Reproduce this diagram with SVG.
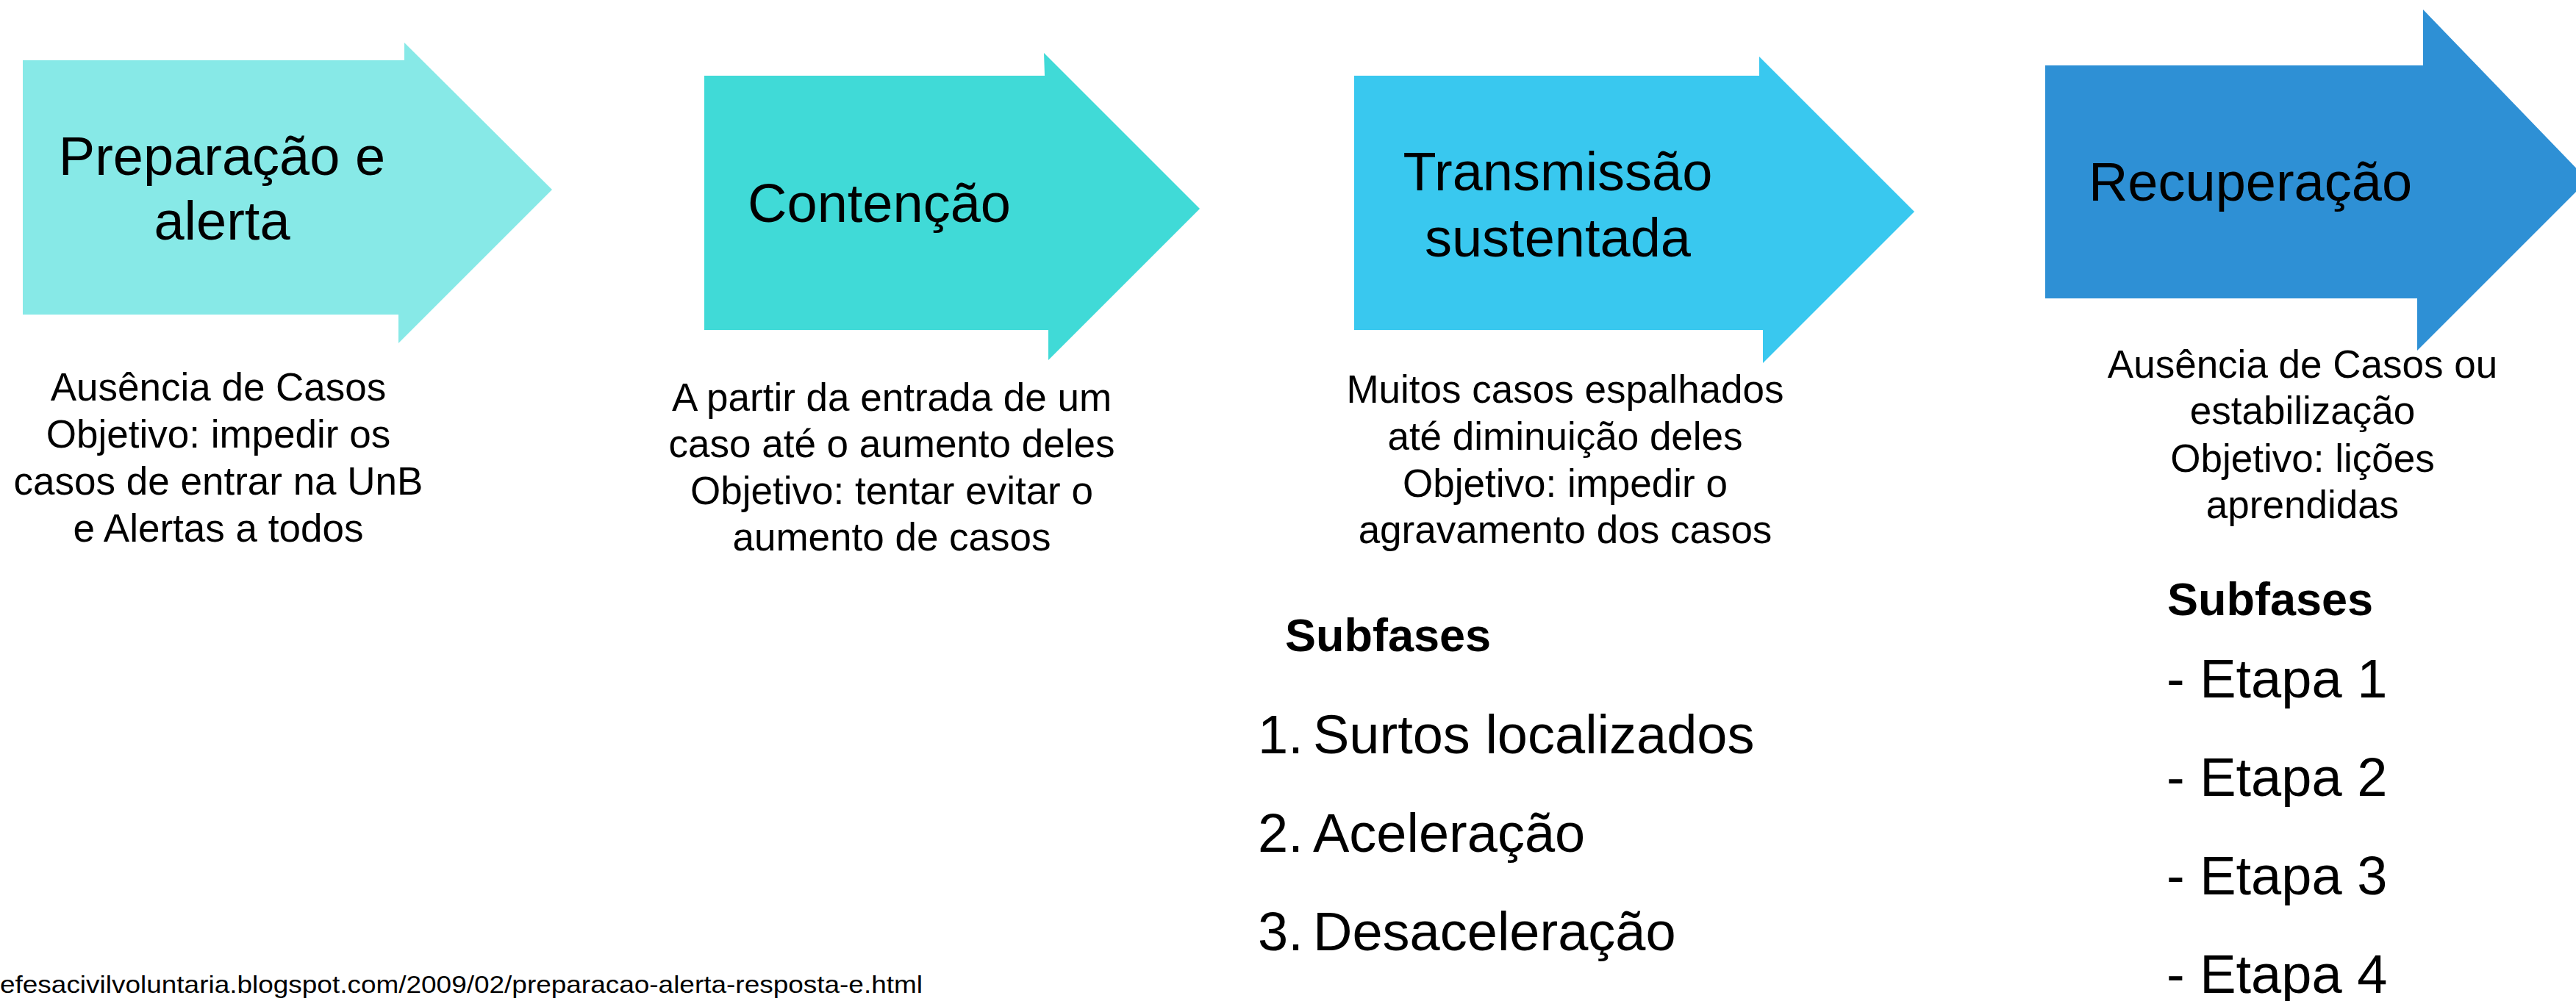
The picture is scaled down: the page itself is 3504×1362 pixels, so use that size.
<svg xmlns="http://www.w3.org/2000/svg" width="3504" height="1362" viewBox="0 0 3504 1362">
<style>
text { font-family: "Liberation Sans", Arial, sans-serif; fill: #000; }
.title { font-size: 74px; text-anchor: middle; }
.desc { font-size: 53px; text-anchor: middle; }
.sub { font-size: 63px; font-weight: bold; }
.item { font-size: 74px; }
.src { font-size: 33px; }
</style>
<rect x="0" y="0" width="3504" height="1362" fill="#ffffff"/>
<g id="phase-preparacao">
  <polygon points="31,82 550,82 550,58 751,258 542,467 542,428 31,428" fill="#87E9E7"/>
  <text class="title" x="302" y="238">Preparação e</text>
  <text class="title" x="302" y="326">alerta</text>
</g>
<g id="phase-contencao">
  <polygon points="958,103 1421,103 1420,72 1632,284 1426,490 1426,449 958,449" fill="#40DAD7"/>
  <text class="title" x="1196" y="302">Contenção</text>
</g>
<g id="phase-transmissao">
  <polygon points="1842,103 2393,103 2393,77 2604,288 2398,494 2398,449 1842,449" fill="#39C8EF"/>
  <text class="title" x="2119" y="259">Transmissão</text>
  <text class="title" x="2119" y="349">sustentada</text>
</g>
<g id="phase-recuperacao">
  <polygon points="2782,89 3296,89 3296,13 3520,245 3288,477 3288,406 2782,406" fill="#2E90D5"/>
  <text class="title" x="3061" y="273">Recuperação</text>
</g>
<g id="desc-preparacao">
  <text class="desc" x="297" y="545">Ausência de Casos</text>
  <text class="desc" x="297" y="609">Objetivo: impedir os</text>
  <text class="desc" x="297" y="673">casos de entrar na UnB</text>
  <text class="desc" x="297" y="737">e Alertas a todos</text>
</g>
<g id="desc-contencao">
  <text class="desc" x="1213" y="559">A partir da entrada de um</text>
  <text class="desc" x="1213" y="622">caso até o aumento deles</text>
  <text class="desc" x="1213" y="686">Objetivo: tentar evitar o</text>
  <text class="desc" x="1213" y="749">aumento de casos</text>
</g>
<g id="desc-transmissao">
  <text class="desc" x="2129" y="548">Muitos casos espalhados</text>
  <text class="desc" x="2129" y="612">até diminuição deles</text>
  <text class="desc" x="2129" y="676">Objetivo: impedir o</text>
  <text class="desc" x="2129" y="739">agravamento dos casos</text>
</g>
<g id="desc-recuperacao">
  <text class="desc" x="3132" y="514">Ausência de Casos ou</text>
  <text class="desc" x="3132" y="577">estabilização</text>
  <text class="desc" x="3132" y="642">Objetivo: lições</text>
  <text class="desc" x="3132" y="705">aprendidas</text>
</g>
<g id="subfases-transmissao">
  <text class="sub" x="1748" y="886">Subfases</text>
  <text class="item" x="1711" y="1025">1.</text>
  <text class="item" x="1786" y="1025">Surtos localizados</text>
  <text class="item" x="1711" y="1159">2.</text>
  <text class="item" x="1786" y="1159">Aceleração</text>
  <text class="item" x="1711" y="1293">3.</text>
  <text class="item" x="1786" y="1293">Desaceleração</text>
</g>
<g id="subfases-recuperacao">
  <text class="sub" x="2948" y="837">Subfases</text>
  <text class="item" x="2947" y="949">- Etapa 1</text>
  <text class="item" x="2947" y="1083">- Etapa 2</text>
  <text class="item" x="2947" y="1217">- Etapa 3</text>
  <text class="item" x="2947" y="1351">- Etapa 4</text>
</g>
<g id="connectors"></g>
<g id="source">
  <text class="src" x="0" y="1351" textLength="1255" lengthAdjust="spacingAndGlyphs">efesacivilvoluntaria.blogspot.com/2009/02/preparacao-alerta-resposta-e.html</text>
</g>
</svg>
